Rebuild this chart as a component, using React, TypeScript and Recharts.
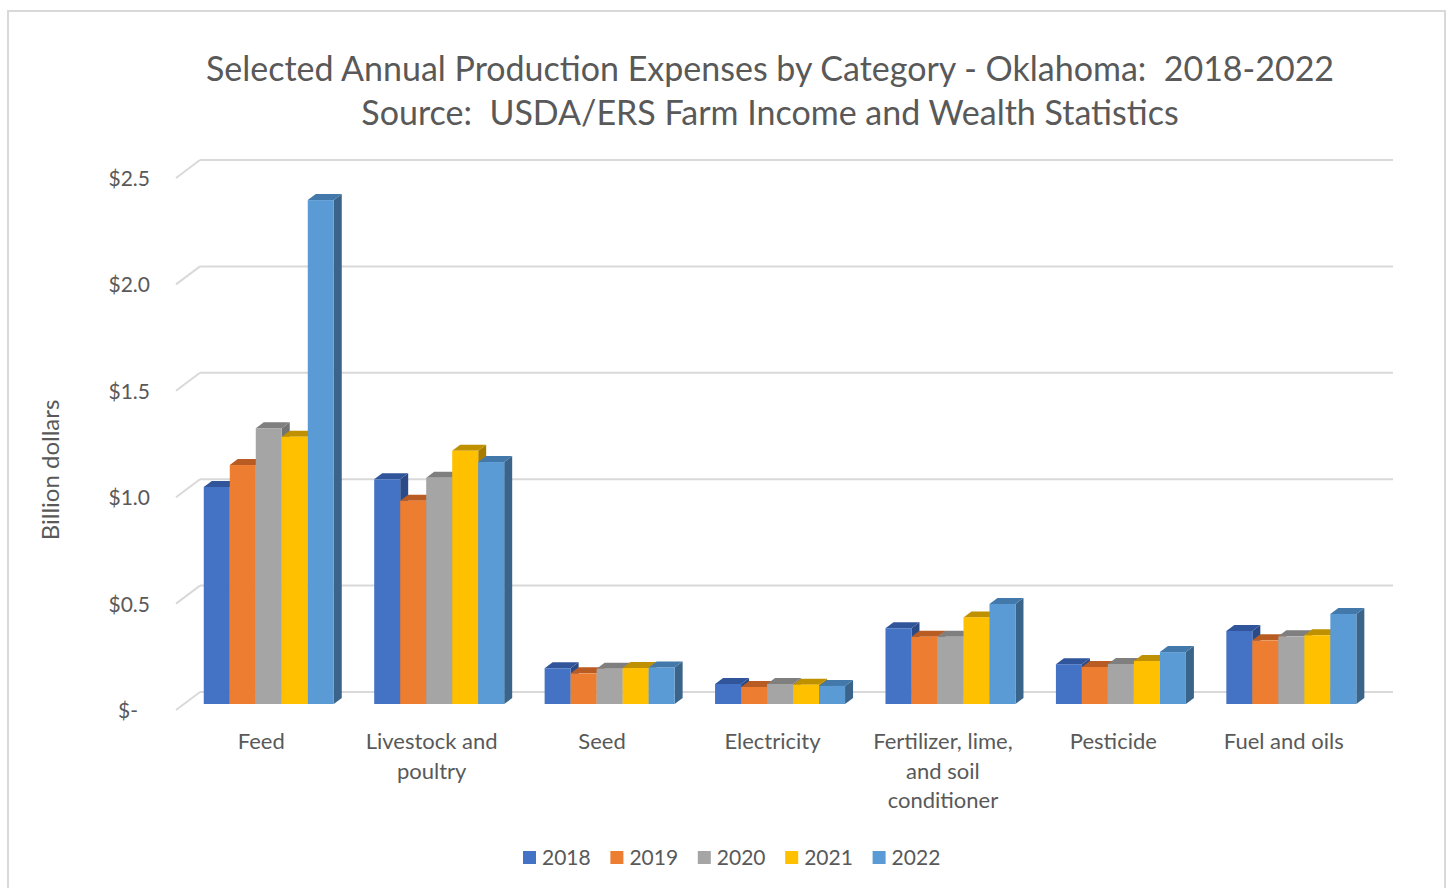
import { BarChart, Bar, XAxis, YAxis, CartesianGrid } from "recharts";

// ── data ──────────────────────────────────────────────────────────────────────
const categories = [
  "Feed",
  "Livestock and poultry",
  "Seed",
  "Electricity",
  "Fertilizer, lime, and soil conditioner",
  "Pesticide",
  "Fuel and oils",
];
const categoryLines: string[][] = [
  ["Feed"],
  ["Livestock and", "poultry"],
  ["Seed"],
  ["Electricity"],
  ["Fertilizer, lime,", "and soil", "conditioner"],
  ["Pesticide"],
  ["Fuel and oils"],
];
const years = ["2018", "2019", "2020", "2021", "2022"];

// billion dollars
const v2018 = [1.02, 1.056, 0.168, 0.094, 0.356, 0.187, 0.343];
const v2019 = [1.123, 0.955, 0.144, 0.08, 0.316, 0.174, 0.299];
const v2020 = [1.296, 1.063, 0.166, 0.094, 0.316, 0.188, 0.318];
const v2021 = [1.256, 1.19, 0.169, 0.091, 0.407, 0.202, 0.323];
const v2022 = [2.368, 1.137, 0.172, 0.085, 0.47, 0.244, 0.423];
const seriesValues = [v2018, v2019, v2020, v2021, v2022];

const yTicks = [0, 0.5, 1.0, 1.5, 2.0, 2.5];

// front / top / side colours per year
const frontColors = ["#4472C4", "#ED7D31", "#A5A5A5", "#FFC000", "#5B9BD5"];
const topColors = ["#30559A", "#B85C23", "#7F7F7F", "#BF9000", "#4379AA"];
const sideColors = ["#2A4A88", "#A65320", "#737373", "#A67D00", "#3A6489"];

const data = categories.map((name, i) => {
  const row: Record<string, string | number> = { name };
  years.forEach((y, s) => (row[y] = seriesValues[s][i]));
  return row;
});

// ── 3d helpers ────────────────────────────────────────────────────────────────
const FONT = "Lato, 'Open Sans', sans-serif";
const TEXT = "#595959";
const GRID = "#D9D9D9";
// wall depth (floor front edge -> back wall)
const WALL_DX = 24;
const WALL_DY = 18;
// bar placement inside the depth and bar thickness
const BAR_OX = 8;
const BAR_OY = 6;
const BAR_DX = 8;
const BAR_DY = 6;

function make3dBar(s: number) {
  return (props: any) => {
    const { x, y, width, height } = props;
    if (width == null || height == null) return <g />;
    const fx = x + BAR_OX;
    const fy = y - BAR_OY;
    const w = width;
    const h = height;
    const top = `${fx},${fy} ${fx + w},${fy} ${fx + w + BAR_DX},${fy - BAR_DY} ${fx + BAR_DX},${fy - BAR_DY}`;
    const side = `${fx + w},${fy} ${fx + w + BAR_DX},${fy - BAR_DY} ${fx + w + BAR_DX},${fy + h - BAR_DY} ${fx + w},${fy + h}`;
    return (
      <g>
        <polygon points={side} fill={sideColors[s]} />
        <polygon points={top} fill={topColors[s]} />
        <rect x={fx} y={fy} width={w} height={h} fill={frontColors[s]} />
      </g>
    );
  };
}

function wallLine(props: any) {
  const { x1, x2, y1, index } = props;
  return (
    <g key={`wall-${index ?? y1}`}>
      <line x1={x1} y1={y1} x2={x1 + WALL_DX} y2={y1 - WALL_DY} stroke={GRID} strokeWidth={2} />
      <line x1={x1 + WALL_DX} y1={y1 - WALL_DY} x2={x2 + WALL_DX} y2={y1 - WALL_DY} stroke={GRID} strokeWidth={2} />
    </g>
  );
}

function YTick(props: any) {
  const { y, payload } = props;
  const v = payload.value as number;
  const label = v === 0 ? "$-" : `$${v.toFixed(1)}`;
  return (
    <text x={v === 0 ? 138 : 150} y={y} dy={8} textAnchor="end" fill={TEXT} fontSize={21} fontFamily={FONT}>
      {label}
    </text>
  );
}

function XTick(props: any) {
  const { x, index } = props;
  const lines = categoryLines[index] ?? [];
  return (
    <g>
      {lines.map((ln, k) => (
        <text key={k} x={x} y={749 + k * 29.5} textAnchor="middle" fill={TEXT} fontSize={22} fontFamily={FONT}>
          {ln}
        </text>
      ))}
    </g>
  );
}

// ── main ──────────────────────────────────────────────────────────────────────
export default function App() {
  return (
    <div style={{ position: "absolute", left: 0, top: 0, width: 1450, height: 888, background: "#fff", overflow: "hidden" }}>
      <div
        style={{
          position: "absolute",
          left: 7,
          top: 10,
          width: 1439,
          height: 900,
          border: `2px solid ${GRID}`,
          boxSizing: "border-box",
        }}
      />
      <div style={{ position: "absolute", left: 0, top: 0 }}>
        <BarChart
          width={1450}
          height={888}
          data={data}
          margin={{ top: 178, right: 81, bottom: 138, left: 106 }}
          barCategoryGap="11.6%"
          barGap={0}
        >
          <CartesianGrid vertical={false} horizontal={wallLine} />
          <XAxis dataKey="name" axisLine={false} tickLine={false} height={40} interval={0} tick={<XTick />} />
          <YAxis
            domain={[0, 2.5]}
            ticks={yTicks}
            axisLine={false}
            tickLine={false}
            width={70}
            tick={<YTick />}
          />
          {years.map((y, s) => (
            <Bar key={y} dataKey={y} fill={frontColors[s]} shape={make3dBar(s)} isAnimationActive={false} />
          ))}
        </BarChart>
      </div>
      <svg width={1450} height={888} style={{ position: "absolute", left: 0, top: 0, pointerEvents: "none" }}>
        <text x={770} y={81} textAnchor="middle" fill={TEXT} fontSize={34} fontFamily={FONT} style={{ whiteSpace: "pre" }}>
          {"Selected Annual Production Expenses by Category - Oklahoma:  2018-2022"}
        </text>
        <text x={770} y={125} textAnchor="middle" fill={TEXT} fontSize={34} fontFamily={FONT} style={{ whiteSpace: "pre" }}>
          {"Source:  USDA/ERS Farm Income and Wealth Statistics"}
        </text>
        <text
          x={0}
          y={0}
          transform="translate(59,470) rotate(-90)"
          textAnchor="middle"
          fill={TEXT}
          fontSize={24}
          fontFamily={FONT}
        >
          Billion dollars
        </text>
        {years.map((y, s) => (
          <g key={y}>
            <rect x={523 + s * 87.4} y={851} width={13} height={13} fill={frontColors[s]} />
            <text x={542 + s * 87.4} y={865} fill={TEXT} fontSize={21} fontFamily={FONT}>
              {y}
            </text>
          </g>
        ))}
      </svg>
    </div>
  );
}
